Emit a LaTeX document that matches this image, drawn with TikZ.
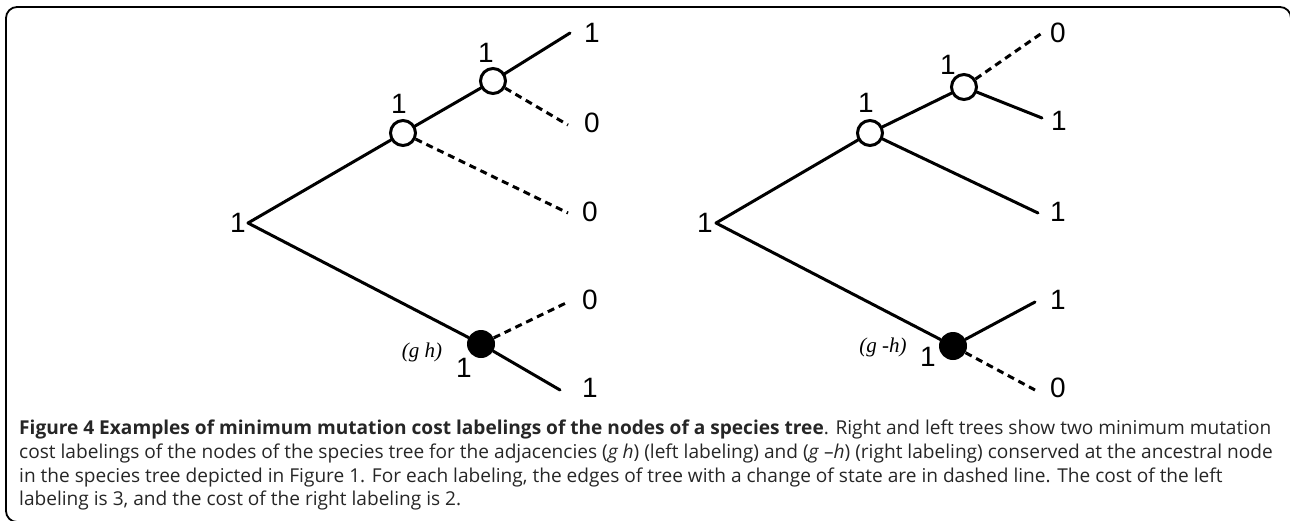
\documentclass[tikz,border=0pt]{standalone}
\usepackage{fontspec}
\setmainfont{Liberation Sans}
\newfontfamily\capfont{Open Sans}
\newfontfamily\timesfont{Liberation Serif}
\begin{document}
\begin{tikzpicture}[x=1pt,y=-1pt,
  edge/.style={line width=3pt, line cap=round},
  chg/.style={line width=3pt, dash pattern=on 7pt off 5pt},
  opennode/.style={circle, draw, line width=3pt, fill=white, minimum size=25pt, inner sep=0pt},
  fullnode/.style={circle, fill=black, minimum size=28pt, inner sep=0pt},
  num/.style={font=\fontsize{28}{28}\selectfont, inner sep=0pt},
  lab/.style={font=\timesfont\itshape\fontsize{21}{21}\selectfont, inner sep=0pt},
  capline/.style={anchor=base west, inner sep=0pt, font=\capfont\fontsize{19.1}{22}\selectfont, text=black!85},
  frame/.style={line width=1.8pt, rounded corners=11pt}]
\useasboundingbox (0,0) rectangle (1290,520);
% frame
\draw[frame] (22,522) -- (6,522) -- (6,7) -- (1291,7) -- (1291,40);
% ---------- left tree ----------
\coordinate (Lr) at (248,223);
\node[opennode] (La) at (403,133) {};
\node[opennode] (Lb) at (493,81) {};
\node[fullnode] (Lc) at (481,344) {};
\coordinate (L1) at (570,33);
\coordinate (L2) at (568,125);
\coordinate (L3) at (568,213);
\coordinate (L4) at (568,302);
\coordinate (L5) at (560,390);
\draw[edge] (Lr) -- (La);
\draw[edge] (La) -- (Lb);
\draw[edge] (Lb) -- (L1);
\draw[chg] (Lb) -- (L2);
\draw[chg] (La) -- (L3);
\draw[edge] (Lr) -- (Lc);
\draw[chg] (Lc) -- (L4);
\draw[edge] (Lc) -- (L5);
\node[num] (tL1) at (592,33) {1};
\node[num] (tL2) at (592,123) {0};
\node[num] (tL3) at (590,212) {0};
\node[num] (tL4) at (590,300) {0};
\node[num] (tL5) at (590,388) {1};
\node[num] (tLr) at (238,223) {1};
\node[num] (tLa) at (399,104) {1};
\node[num] (tLb) at (486,53) {1};
\node[num] (tLc) at (464,368) {1};
\node[lab] (gLc) at (422,352) {(g h)};
% ---------- right tree ----------
\coordinate (Rr) at (716,223);
\node[opennode] (Ra) at (870,133) {};
\node[opennode] (Rb) at (964,87) {};
\node[fullnode] (Rc) at (953,346) {};
\coordinate (R1) at (1042,33);
\coordinate (R2) at (1042,118);
\coordinate (R3) at (1038,213);
\coordinate (R4) at (1035,302);
\coordinate (R5) at (1035,390);
\draw[edge] (Rr) -- (Ra);
\draw[edge] (Ra) -- (Rb);
\draw[chg] (Rb) -- (R1);
\draw[edge] (Rb) -- (R2);
\draw[edge] (Ra) -- (R3);
\draw[edge] (Rr) -- (Rc);
\draw[edge] (Rc) -- (R4);
\draw[chg] (Rc) -- (R5);
\node[num] (tR1) at (1058,33) {0};
\node[num] (tR2) at (1059,121) {1};
\node[num] (tR3) at (1058,212) {1};
\node[num] (tR4) at (1058,300) {1};
\node[num] (tR5) at (1058,388) {0};
\node[num] (tRr) at (705,223) {1};
\node[num] (tRa) at (866,103) {1};
\node[num] (tRb) at (948,65) {1};
\node[num] (tRc) at (928,357) {1};
\node[lab] (gRc) at (883,347) {(g -h)};
% ---------- caption ----------
\node[capline] (c1) at (19,434) {\textbf{Figure 4 Examples of minimum mutation cost labelings of the nodes of a species tree}. Right and left trees show two minimum mutation};
\node[capline] (c2) at (19,458) {cost labelings of the nodes of the species tree for the adjacencies (\textit{g h}) (left labeling) and (\textit{g} –\textit{h}) (right labeling) conserved at the ancestral node};
\node[capline] (c3) at (19,482) {in the species tree depicted in Figure 1. For each labeling, the edges of tree with a change of state are in dashed line. The cost of the left};
\node[capline] (c4) at (19,505) {labeling is 3, and the cost of the right labeling is 2.};
\end{tikzpicture}
\end{document}
